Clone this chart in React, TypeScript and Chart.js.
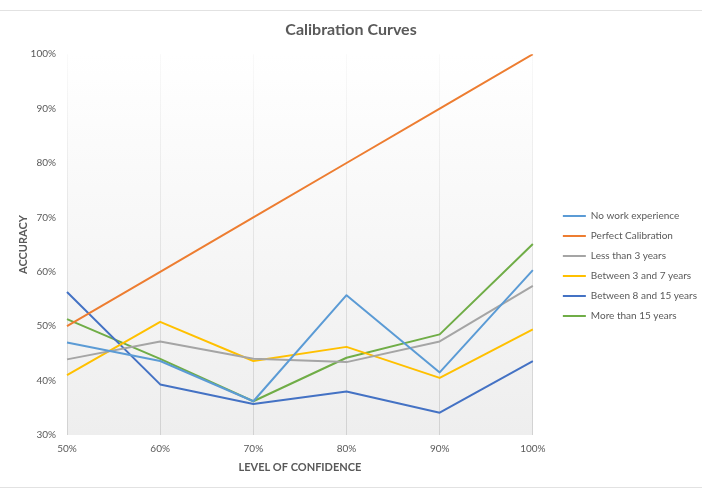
import React, { useEffect, useRef } from "react";
import Chart from "chart.js/auto";

// Confidence levels along the x axis
const confidenceLabels = ["50%", "60%", "70%", "80%", "90%", "100%"];

// Accuracy (%) for each group at each confidence level
const noWorkExperience = [47.0, 43.6, 36.2, 55.7, 41.5, 60.3];
const perfectCalibration = [50, 60, 70, 80, 90, 100];
const lessThan3Years = [43.9, 47.2, 44.0, 43.4, 47.2, 57.4];
const between3And7Years = [41.0, 50.8, 43.6, 46.2, 40.5, 49.4];
const between8And15Years = [56.3, 39.3, 35.7, 38.0, 34.1, 43.6];
const moreThan15Years = [51.3, 44.0, 36.2, 44.2, 48.5, 65.1];

const seriesNames = [
  "No work experience",
  "Perfect Calibration",
  "Less than 3 years",
  "Between 3 and 7 years",
  "Between 8 and 15 years",
  "More than 15 years",
];
const seriesValues = [
  noWorkExperience,
  perfectCalibration,
  lessThan3Years,
  between3And7Years,
  between8And15Years,
  moreThan15Years,
];
const seriesColors = ["#5B9BD5", "#ED7D31", "#A5A5A5", "#FFC000", "#4472C4", "#70AD47"];

// Accuracy axis range (%)
const accuracyMin = 30;
const accuracyMax = 100;
const accuracyStep = 10;

const FONT = 'Lato, "Liberation Sans", sans-serif';
const TEXT = "#595959";

// Plot-area gradient, chart frame rules, and legend placement
const chartBackdrop = {
  id: "chartBackdrop",
  afterLayout(chart: any) {
    const lg = chart.legend;
    if (lg) {
      const dx = 20;
      const dy = 29;
      lg.left += dx;
      lg.right += dx;
      lg.top += dy;
      lg.bottom += dy;
    }
  },
  beforeDraw(chart: any) {
    const { ctx, chartArea: a, width, height } = chart;
    ctx.save();
    ctx.fillStyle = "#ffffff";
    ctx.fillRect(0, 0, width, height);
    ctx.strokeStyle = "#e2e2e2";
    ctx.lineWidth = 1;
    ctx.beginPath();
    ctx.moveTo(0, 10.5);
    ctx.lineTo(width, 10.5);
    ctx.moveTo(0, 487.5);
    ctx.lineTo(width, 487.5);
    ctx.stroke();
    const g = ctx.createLinearGradient(0, a.top, 0, a.bottom);
    g.addColorStop(0, "#ffffff");
    g.addColorStop(1, "#eeeeee");
    ctx.fillStyle = g;
    ctx.fillRect(a.left, a.top, a.width, a.height);
    ctx.restore();
  },
};

export default function App() {
  const canvasRef = useRef<HTMLCanvasElement | null>(null);

  useEffect(() => {
    if (!canvasRef.current) return;
    const chart = new Chart(canvasRef.current, {
      type: "line",
      data: {
        labels: confidenceLabels,
        datasets: seriesNames.map((name, i) => ({
          label: name,
          data: seriesValues[i],
          borderColor: seriesColors[i],
          backgroundColor: seriesColors[i],
          borderWidth: 2,
          pointRadius: 0,
          pointHoverRadius: 0,
          tension: 0,
          fill: false,
          borderJoinStyle: "round" as const,
        })),
      },
      options: {
        responsive: false,
        animation: false,
        devicePixelRatio: 1,
        layout: { padding: { top: 0, left: 15, right: 15, bottom: 24 } },
        plugins: {
          title: {
            display: true,
            text: "Calibration Curves",
            color: TEXT,
            font: { family: FONT, size: 16, weight: "bold" },
            padding: { top: 20, bottom: 15 },
          },
          legend: {
            position: "right",
            labels: {
              usePointStyle: true,
              pointStyle: "line",
              pointStyleWidth: 23,
              padding: 10,
              color: TEXT,
              font: { family: FONT, size: 10 },
            },
          },
          tooltip: { enabled: false },
        },
        scales: {
          x: {
            type: "category",
            offset: false,
            afterFit(scale: any) {
              scale.height = 39;
            },
            grid: {
              display: true,
              drawTicks: false,
              lineWidth: 1,
              color: (c: any) => {
                const a = c.chart.chartArea;
                if (!a) return "#d9d9d9";
                const g = c.chart.ctx.createLinearGradient(0, a.top, 0, a.bottom);
                g.addColorStop(0, "rgba(217,217,217,0.15)");
                g.addColorStop(1, "rgba(210,210,210,1)");
                return g;
              },
            },
            border: { display: false },
            ticks: {
              padding: 8,
              color: TEXT,
              maxRotation: 0,
              font: { family: FONT, size: 10 },
            },
            title: {
              display: true,
              text: "LEVEL OF CONFIDENCE",
              color: TEXT,
              font: { family: FONT, size: 11, weight: "bold" },
              padding: { top: 4, bottom: 0 },
            },
          },
          y: {
            min: accuracyMin,
            max: accuracyMax,
            afterFit(scale: any) {
              scale.width = 52;
            },
            grid: { display: false, drawTicks: false },
            border: { display: false },
            ticks: {
              stepSize: accuracyStep,
              padding: 11,
              color: TEXT,
              font: { family: FONT, size: 10 },
              callback: (v: any) => `${v}%`,
            },
            title: {
              display: true,
              text: "ACCURACY",
              color: TEXT,
              font: { family: FONT, size: 11, weight: "bold" },
              padding: { top: 2, bottom: 0 },
            },
          },
        },
      },
      plugins: [chartBackdrop],
    });
    return () => chart.destroy();
  }, []);

  return (
    <div style={{ position: "absolute", left: 0, top: 0, width: 702, height: 498 }}>
      <canvas ref={canvasRef} width={702} height={498} />
    </div>
  );
}
